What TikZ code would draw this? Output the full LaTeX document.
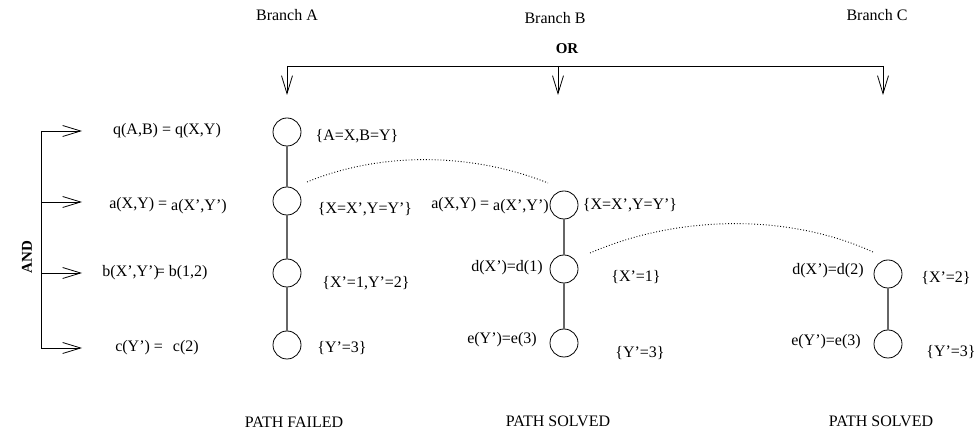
\documentclass[tikz,border=0pt]{standalone}
\usepackage{fontspec}
\setmainfont{Liberation Serif}
\usetikzlibrary{arrows.meta}
\begin{document}
\begin{tikzpicture}[x=1pt,y=-1pt,
  font=\fontsize{16}{19}\selectfont,
  txt/.style={inner sep=0pt, anchor=center},
  boldtxt/.style={inner sep=0pt, anchor=center, font=\fontsize{15}{18}\selectfont\bfseries},
  goal/.style={circle, draw=black, minimum size=28pt, inner sep=0pt, line width=0.8pt},
  chain/.style={draw=black!60, line width=1.3pt},
  barb/.style={-{Straight Barb[length=18pt,width=11pt,line width=0.8pt]}, line width=0.8pt},
  plain/.style={line width=0.8pt},
  arcdots/.style={dotted, line width=0.9pt}]
\useasboundingbox (0,0) rectangle (978,435);

% headings
\node[txt] (brA) at (287,15) {Branch A};
\node[txt] (brB) at (555,18) {Branch B};
\node[txt] (brC) at (877,15) {Branch C};
\node[boldtxt] (or) at (567,49) {OR};

% OR bracket
\coordinate (orA) at (287,66);
\coordinate (orB) at (558,66);
\coordinate (orC) at (883,66);
\coordinate (tipA) at (287,95);
\coordinate (tipB) at (558,95);
\coordinate (tipC) at (883,95);
\draw[plain] (orA) -- (orC);
\draw[barb] (orA) -- (tipA);
\draw[barb] (orB) -- (tipB);
\draw[barb] (orC) -- (tipC);

% AND bracket
\node[boldtxt, rotate=90] (and) at (27,257) {AND};
\coordinate (and1) at (41,131);
\coordinate (and2) at (41,202);
\coordinate (and3) at (41,273);
\coordinate (and4) at (41,348);
\coordinate (ta1) at (82,131);
\coordinate (ta2) at (82,202);
\coordinate (ta3) at (82,273);
\coordinate (ta4) at (82,348);
\draw[plain] (and1) -- (and4);
\draw[barb] (and1) -- (ta1);
\draw[barb] (and2) -- (ta2);
\draw[barb] (and3) -- (ta3);
\draw[barb] (and4) -- (ta4);

% left goals
\node[txt] (gq) at (167,131) {q(A,B) = q(X,Y)};
\node[txt] (ga) at (168,206) {a(X,Y) = \raisebox{-2pt}{a(X',Y')}};
\node[txt] (gb) at (155,273) {b(X',Y')\kern-3pt= b(1,2)};
\node[txt] (gc) at (157,348) {c(Y') =\hspace{6pt} c(2)};

% Branch A
\node[goal] (a1) at (287,132) {};
\node[goal] (a2) at (287,201) {};
\node[goal] (a3) at (287,273) {};
\node[goal] (a4) at (287,345) {};
\draw[chain] (a1) -- (a2);
\draw[chain] (a2) -- (a3);
\draw[chain] (a3) -- (a4);
\node[txt] (sa1) at (357,136) {\{A=X,B=Y\}};
\node[txt] (sa2) at (365,209) {\{X=X',Y=Y'\}};
\node[txt] (sa3) at (366,283) {\{X'=1,Y'=2\}};
\node[txt] (sa4) at (342,348) {\{Y'=3\}};

% Branch B
\node[goal] (b1) at (564,205) {};
\node[goal] (b2) at (564,269) {};
\node[goal] (b3) at (564,343) {};
\draw[chain] (b1) -- (b2);
\draw[chain] (b2) -- (b3);
\node[txt] (gbA) at (490,206) {a(X,Y) = \raisebox{-2pt}{a(X',Y')}};
\node[txt] (gbD) at (507,268) {d(X')=d(1)};
\node[txt] (gbE) at (502,340) {e(Y')=e(3)};
\node[txt] (sb1) at (630,205) {\{X=X',Y=Y'\}};
\node[txt] (sb2) at (636,277) {\{X'=1\}};
\node[txt] (sb3) at (640,353) {\{Y'=3\}};

% Branch C
\node[goal] (c1) at (888,274) {};
\node[goal] (c2) at (888,344) {};
\draw[chain] (c1) -- (c2);
\node[txt] (gcD) at (828,271) {d(X')=d(2)};
\node[txt] (gcE) at (826,342) {e(Y')=e(3)};
\node[txt] (sc1) at (946,278) {\{X'=2\}};
\node[txt] (sc2) at (951,352) {\{Y'=3\}};

% backtracking arcs
\coordinate (d1s) at (307,182);
\coordinate (d1e) at (548,183);
\coordinate (d2s) at (590,253);
\coordinate (d2e) at (873,252);
\draw[arcdots] (d1s) .. controls (380,152) and (470,152) .. (d1e);
\draw[arcdots] (d2s) .. controls (680,214) and (790,214) .. (d2e);

% results
\node[txt] (rA) at (294,422) {PATH FAILED};
\node[txt] (rB) at (558,421) {PATH SOLVED};
\node[txt] (rC) at (881,421) {PATH SOLVED};
\end{tikzpicture}
\end{document}
